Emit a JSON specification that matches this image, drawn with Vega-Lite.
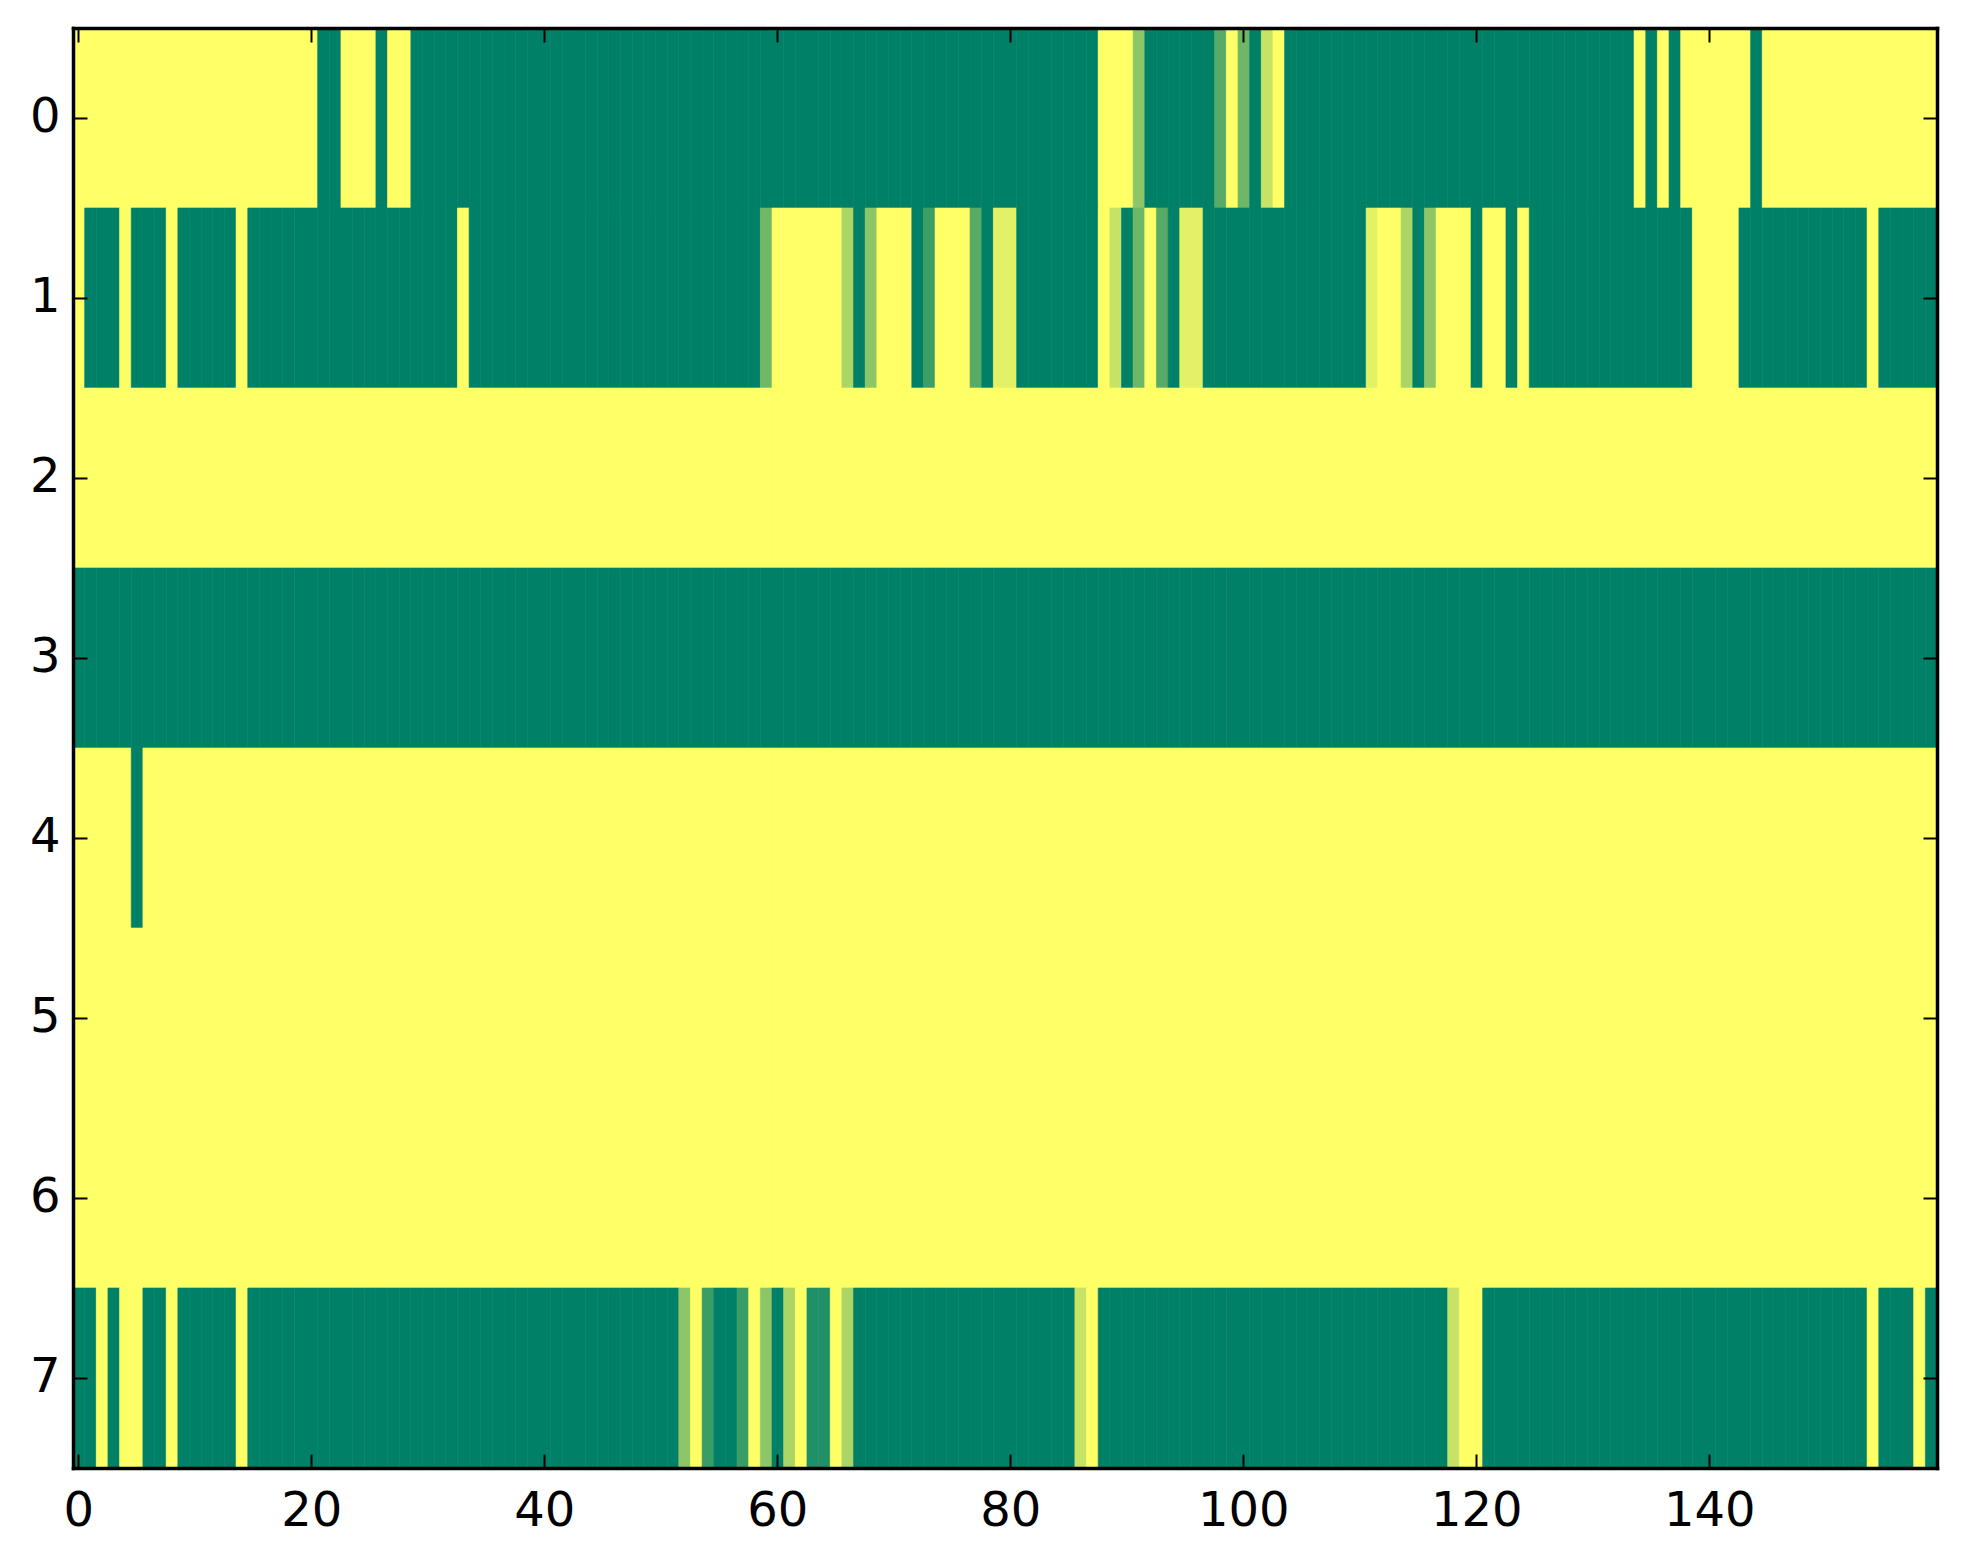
{
  "$schema": "https://vega.github.io/schema/vega-lite/v6.json",
  "width": 1864,
  "height": 1440,
  "autosize": {"type": "none"},
  "padding": {"left": 73, "top": 28, "right": 26, "bottom": 96},
  "background": "white",
  "data": {
    "values": [
{"r":0,"c":0,"v":1},{"r":0,"c":1,"v":1},{"r":0,"c":2,"v":1},{"r":0,"c":3,"v":1},{"r":0,"c":4,"v":1},{"r":0,"c":5,"v":1},{"r":0,"c":6,"v":1},{"r":0,"c":7,"v":1},{"r":0,"c":8,"v":1},{"r":0,"c":9,"v":1},
{"r":0,"c":10,"v":1},{"r":0,"c":11,"v":1},{"r":0,"c":12,"v":1},{"r":0,"c":13,"v":1},{"r":0,"c":14,"v":1},{"r":0,"c":15,"v":1},{"r":0,"c":16,"v":1},{"r":0,"c":17,"v":1},{"r":0,"c":18,"v":1},{"r":0,"c":19,"v":1},
{"r":0,"c":20,"v":1},{"r":0,"c":21,"v":0},{"r":0,"c":22,"v":0},{"r":0,"c":23,"v":1},{"r":0,"c":24,"v":1},{"r":0,"c":25,"v":1},{"r":0,"c":26,"v":0},{"r":0,"c":27,"v":1},{"r":0,"c":28,"v":1},{"r":0,"c":29,"v":0},
{"r":0,"c":30,"v":0},{"r":0,"c":31,"v":0},{"r":0,"c":32,"v":0},{"r":0,"c":33,"v":0},{"r":0,"c":34,"v":0},{"r":0,"c":35,"v":0},{"r":0,"c":36,"v":0},{"r":0,"c":37,"v":0},{"r":0,"c":38,"v":0},{"r":0,"c":39,"v":0},
{"r":0,"c":40,"v":0},{"r":0,"c":41,"v":0},{"r":0,"c":42,"v":0},{"r":0,"c":43,"v":0},{"r":0,"c":44,"v":0},{"r":0,"c":45,"v":0},{"r":0,"c":46,"v":0},{"r":0,"c":47,"v":0},{"r":0,"c":48,"v":0},{"r":0,"c":49,"v":0},
{"r":0,"c":50,"v":0},{"r":0,"c":51,"v":0},{"r":0,"c":52,"v":0},{"r":0,"c":53,"v":0},{"r":0,"c":54,"v":0},{"r":0,"c":55,"v":0},{"r":0,"c":56,"v":0},{"r":0,"c":57,"v":0},{"r":0,"c":58,"v":0},{"r":0,"c":59,"v":0},
{"r":0,"c":60,"v":0},{"r":0,"c":61,"v":0},{"r":0,"c":62,"v":0},{"r":0,"c":63,"v":0},{"r":0,"c":64,"v":0},{"r":0,"c":65,"v":0},{"r":0,"c":66,"v":0},{"r":0,"c":67,"v":0},{"r":0,"c":68,"v":0},{"r":0,"c":69,"v":0},
{"r":0,"c":70,"v":0},{"r":0,"c":71,"v":0},{"r":0,"c":72,"v":0},{"r":0,"c":73,"v":0},{"r":0,"c":74,"v":0},{"r":0,"c":75,"v":0},{"r":0,"c":76,"v":0},{"r":0,"c":77,"v":0},{"r":0,"c":78,"v":0},{"r":0,"c":79,"v":0},
{"r":0,"c":80,"v":0},{"r":0,"c":81,"v":0},{"r":0,"c":82,"v":0},{"r":0,"c":83,"v":0},{"r":0,"c":84,"v":0},{"r":0,"c":85,"v":0},{"r":0,"c":86,"v":0},{"r":0,"c":87,"v":0},{"r":0,"c":88,"v":1},{"r":0,"c":89,"v":1},
{"r":0,"c":90,"v":1},{"r":0,"c":91,"v":0.55},{"r":0,"c":92,"v":0},{"r":0,"c":93,"v":0},{"r":0,"c":94,"v":0},{"r":0,"c":95,"v":0},{"r":0,"c":96,"v":0},{"r":0,"c":97,"v":0},{"r":0,"c":98,"v":0.34},{"r":0,"c":99,"v":1},
{"r":0,"c":100,"v":0.43},{"r":0,"c":101,"v":0},{"r":0,"c":102,"v":0.78},{"r":0,"c":103,"v":1},{"r":0,"c":104,"v":0},{"r":0,"c":105,"v":0},{"r":0,"c":106,"v":0},{"r":0,"c":107,"v":0},{"r":0,"c":108,"v":0},{"r":0,"c":109,"v":0},
{"r":0,"c":110,"v":0},{"r":0,"c":111,"v":0},{"r":0,"c":112,"v":0},{"r":0,"c":113,"v":0},{"r":0,"c":114,"v":0},{"r":0,"c":115,"v":0},{"r":0,"c":116,"v":0},{"r":0,"c":117,"v":0},{"r":0,"c":118,"v":0},{"r":0,"c":119,"v":0},
{"r":0,"c":120,"v":0},{"r":0,"c":121,"v":0},{"r":0,"c":122,"v":0},{"r":0,"c":123,"v":0},{"r":0,"c":124,"v":0},{"r":0,"c":125,"v":0},{"r":0,"c":126,"v":0},{"r":0,"c":127,"v":0},{"r":0,"c":128,"v":0},{"r":0,"c":129,"v":0},
{"r":0,"c":130,"v":0},{"r":0,"c":131,"v":0},{"r":0,"c":132,"v":0},{"r":0,"c":133,"v":0},{"r":0,"c":134,"v":1},{"r":0,"c":135,"v":0},{"r":0,"c":136,"v":1},{"r":0,"c":137,"v":0},{"r":0,"c":138,"v":1},{"r":0,"c":139,"v":1},
{"r":0,"c":140,"v":1},{"r":0,"c":141,"v":1},{"r":0,"c":142,"v":1},{"r":0,"c":143,"v":1},{"r":0,"c":144,"v":0},{"r":0,"c":145,"v":1},{"r":0,"c":146,"v":1},{"r":0,"c":147,"v":1},{"r":0,"c":148,"v":1},{"r":0,"c":149,"v":1},
{"r":0,"c":150,"v":1},{"r":0,"c":151,"v":1},{"r":0,"c":152,"v":1},{"r":0,"c":153,"v":1},{"r":0,"c":154,"v":1},{"r":0,"c":155,"v":1},{"r":0,"c":156,"v":1},{"r":0,"c":157,"v":1},{"r":0,"c":158,"v":1},{"r":0,"c":159,"v":1},
{"r":1,"c":0,"v":1},{"r":1,"c":1,"v":0},{"r":1,"c":2,"v":0},{"r":1,"c":3,"v":0},{"r":1,"c":4,"v":1},{"r":1,"c":5,"v":0},{"r":1,"c":6,"v":0},{"r":1,"c":7,"v":0},{"r":1,"c":8,"v":1},{"r":1,"c":9,"v":0},
{"r":1,"c":10,"v":0},{"r":1,"c":11,"v":0},{"r":1,"c":12,"v":0},{"r":1,"c":13,"v":0},{"r":1,"c":14,"v":1},{"r":1,"c":15,"v":0},{"r":1,"c":16,"v":0},{"r":1,"c":17,"v":0},{"r":1,"c":18,"v":0},{"r":1,"c":19,"v":0},
{"r":1,"c":20,"v":0},{"r":1,"c":21,"v":0},{"r":1,"c":22,"v":0},{"r":1,"c":23,"v":0},{"r":1,"c":24,"v":0},{"r":1,"c":25,"v":0},{"r":1,"c":26,"v":0},{"r":1,"c":27,"v":0},{"r":1,"c":28,"v":0},{"r":1,"c":29,"v":0},
{"r":1,"c":30,"v":0},{"r":1,"c":31,"v":0},{"r":1,"c":32,"v":0},{"r":1,"c":33,"v":1},{"r":1,"c":34,"v":0},{"r":1,"c":35,"v":0},{"r":1,"c":36,"v":0},{"r":1,"c":37,"v":0},{"r":1,"c":38,"v":0},{"r":1,"c":39,"v":0},
{"r":1,"c":40,"v":0},{"r":1,"c":41,"v":0},{"r":1,"c":42,"v":0},{"r":1,"c":43,"v":0},{"r":1,"c":44,"v":0},{"r":1,"c":45,"v":0},{"r":1,"c":46,"v":0},{"r":1,"c":47,"v":0},{"r":1,"c":48,"v":0},{"r":1,"c":49,"v":0},
{"r":1,"c":50,"v":0},{"r":1,"c":51,"v":0},{"r":1,"c":52,"v":0},{"r":1,"c":53,"v":0},{"r":1,"c":54,"v":0},{"r":1,"c":55,"v":0},{"r":1,"c":56,"v":0},{"r":1,"c":57,"v":0},{"r":1,"c":58,"v":0},{"r":1,"c":59,"v":0.44},
{"r":1,"c":60,"v":1},{"r":1,"c":61,"v":1},{"r":1,"c":62,"v":1},{"r":1,"c":63,"v":1},{"r":1,"c":64,"v":1},{"r":1,"c":65,"v":1},{"r":1,"c":66,"v":0.67},{"r":1,"c":67,"v":0},{"r":1,"c":68,"v":0.55},{"r":1,"c":69,"v":1},
{"r":1,"c":70,"v":1},{"r":1,"c":71,"v":1},{"r":1,"c":72,"v":0},{"r":1,"c":73,"v":0.24},{"r":1,"c":74,"v":1},{"r":1,"c":75,"v":1},{"r":1,"c":76,"v":1},{"r":1,"c":77,"v":0.34},{"r":1,"c":78,"v":0},{"r":1,"c":79,"v":0.89},
{"r":1,"c":80,"v":0.89},{"r":1,"c":81,"v":0},{"r":1,"c":82,"v":0},{"r":1,"c":83,"v":0},{"r":1,"c":84,"v":0},{"r":1,"c":85,"v":0},{"r":1,"c":86,"v":0},{"r":1,"c":87,"v":0},{"r":1,"c":88,"v":1},{"r":1,"c":89,"v":0.78},
{"r":1,"c":90,"v":0},{"r":1,"c":91,"v":0.43},{"r":1,"c":92,"v":1},{"r":1,"c":93,"v":0.34},{"r":1,"c":94,"v":0},{"r":1,"c":95,"v":0.89},{"r":1,"c":96,"v":0.89},{"r":1,"c":97,"v":0},{"r":1,"c":98,"v":0},{"r":1,"c":99,"v":0},
{"r":1,"c":100,"v":0},{"r":1,"c":101,"v":0},{"r":1,"c":102,"v":0},{"r":1,"c":103,"v":0},{"r":1,"c":104,"v":0},{"r":1,"c":105,"v":0},{"r":1,"c":106,"v":0},{"r":1,"c":107,"v":0},{"r":1,"c":108,"v":0},{"r":1,"c":109,"v":0},
{"r":1,"c":110,"v":0},{"r":1,"c":111,"v":0.89},{"r":1,"c":112,"v":1},{"r":1,"c":113,"v":1},{"r":1,"c":114,"v":0.67},{"r":1,"c":115,"v":0},{"r":1,"c":116,"v":0.55},{"r":1,"c":117,"v":1},{"r":1,"c":118,"v":1},{"r":1,"c":119,"v":1},
{"r":1,"c":120,"v":0},{"r":1,"c":121,"v":1},{"r":1,"c":122,"v":1},{"r":1,"c":123,"v":0},{"r":1,"c":124,"v":1},{"r":1,"c":125,"v":0},{"r":1,"c":126,"v":0},{"r":1,"c":127,"v":0},{"r":1,"c":128,"v":0},{"r":1,"c":129,"v":0},
{"r":1,"c":130,"v":0},{"r":1,"c":131,"v":0},{"r":1,"c":132,"v":0},{"r":1,"c":133,"v":0},{"r":1,"c":134,"v":0},{"r":1,"c":135,"v":0},{"r":1,"c":136,"v":0},{"r":1,"c":137,"v":0},{"r":1,"c":138,"v":0},{"r":1,"c":139,"v":1},
{"r":1,"c":140,"v":1},{"r":1,"c":141,"v":1},{"r":1,"c":142,"v":1},{"r":1,"c":143,"v":0},{"r":1,"c":144,"v":0},{"r":1,"c":145,"v":0},{"r":1,"c":146,"v":0},{"r":1,"c":147,"v":0},{"r":1,"c":148,"v":0},{"r":1,"c":149,"v":0},
{"r":1,"c":150,"v":0},{"r":1,"c":151,"v":0},{"r":1,"c":152,"v":0},{"r":1,"c":153,"v":0},{"r":1,"c":154,"v":1},{"r":1,"c":155,"v":0},{"r":1,"c":156,"v":0},{"r":1,"c":157,"v":0},{"r":1,"c":158,"v":0},{"r":1,"c":159,"v":0},
{"r":2,"c":0,"v":1},{"r":2,"c":1,"v":1},{"r":2,"c":2,"v":1},{"r":2,"c":3,"v":1},{"r":2,"c":4,"v":1},{"r":2,"c":5,"v":1},{"r":2,"c":6,"v":1},{"r":2,"c":7,"v":1},{"r":2,"c":8,"v":1},{"r":2,"c":9,"v":1},
{"r":2,"c":10,"v":1},{"r":2,"c":11,"v":1},{"r":2,"c":12,"v":1},{"r":2,"c":13,"v":1},{"r":2,"c":14,"v":1},{"r":2,"c":15,"v":1},{"r":2,"c":16,"v":1},{"r":2,"c":17,"v":1},{"r":2,"c":18,"v":1},{"r":2,"c":19,"v":1},
{"r":2,"c":20,"v":1},{"r":2,"c":21,"v":1},{"r":2,"c":22,"v":1},{"r":2,"c":23,"v":1},{"r":2,"c":24,"v":1},{"r":2,"c":25,"v":1},{"r":2,"c":26,"v":1},{"r":2,"c":27,"v":1},{"r":2,"c":28,"v":1},{"r":2,"c":29,"v":1},
{"r":2,"c":30,"v":1},{"r":2,"c":31,"v":1},{"r":2,"c":32,"v":1},{"r":2,"c":33,"v":1},{"r":2,"c":34,"v":1},{"r":2,"c":35,"v":1},{"r":2,"c":36,"v":1},{"r":2,"c":37,"v":1},{"r":2,"c":38,"v":1},{"r":2,"c":39,"v":1},
{"r":2,"c":40,"v":1},{"r":2,"c":41,"v":1},{"r":2,"c":42,"v":1},{"r":2,"c":43,"v":1},{"r":2,"c":44,"v":1},{"r":2,"c":45,"v":1},{"r":2,"c":46,"v":1},{"r":2,"c":47,"v":1},{"r":2,"c":48,"v":1},{"r":2,"c":49,"v":1},
{"r":2,"c":50,"v":1},{"r":2,"c":51,"v":1},{"r":2,"c":52,"v":1},{"r":2,"c":53,"v":1},{"r":2,"c":54,"v":1},{"r":2,"c":55,"v":1},{"r":2,"c":56,"v":1},{"r":2,"c":57,"v":1},{"r":2,"c":58,"v":1},{"r":2,"c":59,"v":1},
{"r":2,"c":60,"v":1},{"r":2,"c":61,"v":1},{"r":2,"c":62,"v":1},{"r":2,"c":63,"v":1},{"r":2,"c":64,"v":1},{"r":2,"c":65,"v":1},{"r":2,"c":66,"v":1},{"r":2,"c":67,"v":1},{"r":2,"c":68,"v":1},{"r":2,"c":69,"v":1},
{"r":2,"c":70,"v":1},{"r":2,"c":71,"v":1},{"r":2,"c":72,"v":1},{"r":2,"c":73,"v":1},{"r":2,"c":74,"v":1},{"r":2,"c":75,"v":1},{"r":2,"c":76,"v":1},{"r":2,"c":77,"v":1},{"r":2,"c":78,"v":1},{"r":2,"c":79,"v":1},
{"r":2,"c":80,"v":1},{"r":2,"c":81,"v":1},{"r":2,"c":82,"v":1},{"r":2,"c":83,"v":1},{"r":2,"c":84,"v":1},{"r":2,"c":85,"v":1},{"r":2,"c":86,"v":1},{"r":2,"c":87,"v":1},{"r":2,"c":88,"v":1},{"r":2,"c":89,"v":1},
{"r":2,"c":90,"v":1},{"r":2,"c":91,"v":1},{"r":2,"c":92,"v":1},{"r":2,"c":93,"v":1},{"r":2,"c":94,"v":1},{"r":2,"c":95,"v":1},{"r":2,"c":96,"v":1},{"r":2,"c":97,"v":1},{"r":2,"c":98,"v":1},{"r":2,"c":99,"v":1},
{"r":2,"c":100,"v":1},{"r":2,"c":101,"v":1},{"r":2,"c":102,"v":1},{"r":2,"c":103,"v":1},{"r":2,"c":104,"v":1},{"r":2,"c":105,"v":1},{"r":2,"c":106,"v":1},{"r":2,"c":107,"v":1},{"r":2,"c":108,"v":1},{"r":2,"c":109,"v":1},
{"r":2,"c":110,"v":1},{"r":2,"c":111,"v":1},{"r":2,"c":112,"v":1},{"r":2,"c":113,"v":1},{"r":2,"c":114,"v":1},{"r":2,"c":115,"v":1},{"r":2,"c":116,"v":1},{"r":2,"c":117,"v":1},{"r":2,"c":118,"v":1},{"r":2,"c":119,"v":1},
{"r":2,"c":120,"v":1},{"r":2,"c":121,"v":1},{"r":2,"c":122,"v":1},{"r":2,"c":123,"v":1},{"r":2,"c":124,"v":1},{"r":2,"c":125,"v":1},{"r":2,"c":126,"v":1},{"r":2,"c":127,"v":1},{"r":2,"c":128,"v":1},{"r":2,"c":129,"v":1},
{"r":2,"c":130,"v":1},{"r":2,"c":131,"v":1},{"r":2,"c":132,"v":1},{"r":2,"c":133,"v":1},{"r":2,"c":134,"v":1},{"r":2,"c":135,"v":1},{"r":2,"c":136,"v":1},{"r":2,"c":137,"v":1},{"r":2,"c":138,"v":1},{"r":2,"c":139,"v":1},
{"r":2,"c":140,"v":1},{"r":2,"c":141,"v":1},{"r":2,"c":142,"v":1},{"r":2,"c":143,"v":1},{"r":2,"c":144,"v":1},{"r":2,"c":145,"v":1},{"r":2,"c":146,"v":1},{"r":2,"c":147,"v":1},{"r":2,"c":148,"v":1},{"r":2,"c":149,"v":1},
{"r":2,"c":150,"v":1},{"r":2,"c":151,"v":1},{"r":2,"c":152,"v":1},{"r":2,"c":153,"v":1},{"r":2,"c":154,"v":1},{"r":2,"c":155,"v":1},{"r":2,"c":156,"v":1},{"r":2,"c":157,"v":1},{"r":2,"c":158,"v":1},{"r":2,"c":159,"v":1},
{"r":3,"c":0,"v":0},{"r":3,"c":1,"v":0},{"r":3,"c":2,"v":0},{"r":3,"c":3,"v":0},{"r":3,"c":4,"v":0},{"r":3,"c":5,"v":0},{"r":3,"c":6,"v":0},{"r":3,"c":7,"v":0},{"r":3,"c":8,"v":0},{"r":3,"c":9,"v":0},
{"r":3,"c":10,"v":0},{"r":3,"c":11,"v":0},{"r":3,"c":12,"v":0},{"r":3,"c":13,"v":0},{"r":3,"c":14,"v":0},{"r":3,"c":15,"v":0},{"r":3,"c":16,"v":0},{"r":3,"c":17,"v":0},{"r":3,"c":18,"v":0},{"r":3,"c":19,"v":0},
{"r":3,"c":20,"v":0},{"r":3,"c":21,"v":0},{"r":3,"c":22,"v":0},{"r":3,"c":23,"v":0},{"r":3,"c":24,"v":0},{"r":3,"c":25,"v":0},{"r":3,"c":26,"v":0},{"r":3,"c":27,"v":0},{"r":3,"c":28,"v":0},{"r":3,"c":29,"v":0},
{"r":3,"c":30,"v":0},{"r":3,"c":31,"v":0},{"r":3,"c":32,"v":0},{"r":3,"c":33,"v":0},{"r":3,"c":34,"v":0},{"r":3,"c":35,"v":0},{"r":3,"c":36,"v":0},{"r":3,"c":37,"v":0},{"r":3,"c":38,"v":0},{"r":3,"c":39,"v":0},
{"r":3,"c":40,"v":0},{"r":3,"c":41,"v":0},{"r":3,"c":42,"v":0},{"r":3,"c":43,"v":0},{"r":3,"c":44,"v":0},{"r":3,"c":45,"v":0},{"r":3,"c":46,"v":0},{"r":3,"c":47,"v":0},{"r":3,"c":48,"v":0},{"r":3,"c":49,"v":0},
{"r":3,"c":50,"v":0},{"r":3,"c":51,"v":0},{"r":3,"c":52,"v":0},{"r":3,"c":53,"v":0},{"r":3,"c":54,"v":0},{"r":3,"c":55,"v":0},{"r":3,"c":56,"v":0},{"r":3,"c":57,"v":0},{"r":3,"c":58,"v":0},{"r":3,"c":59,"v":0},
{"r":3,"c":60,"v":0},{"r":3,"c":61,"v":0},{"r":3,"c":62,"v":0},{"r":3,"c":63,"v":0},{"r":3,"c":64,"v":0},{"r":3,"c":65,"v":0},{"r":3,"c":66,"v":0},{"r":3,"c":67,"v":0},{"r":3,"c":68,"v":0},{"r":3,"c":69,"v":0},
{"r":3,"c":70,"v":0},{"r":3,"c":71,"v":0},{"r":3,"c":72,"v":0},{"r":3,"c":73,"v":0},{"r":3,"c":74,"v":0},{"r":3,"c":75,"v":0},{"r":3,"c":76,"v":0},{"r":3,"c":77,"v":0},{"r":3,"c":78,"v":0},{"r":3,"c":79,"v":0},
{"r":3,"c":80,"v":0},{"r":3,"c":81,"v":0},{"r":3,"c":82,"v":0},{"r":3,"c":83,"v":0},{"r":3,"c":84,"v":0},{"r":3,"c":85,"v":0},{"r":3,"c":86,"v":0},{"r":3,"c":87,"v":0},{"r":3,"c":88,"v":0},{"r":3,"c":89,"v":0},
{"r":3,"c":90,"v":0},{"r":3,"c":91,"v":0},{"r":3,"c":92,"v":0},{"r":3,"c":93,"v":0},{"r":3,"c":94,"v":0},{"r":3,"c":95,"v":0},{"r":3,"c":96,"v":0},{"r":3,"c":97,"v":0},{"r":3,"c":98,"v":0},{"r":3,"c":99,"v":0},
{"r":3,"c":100,"v":0},{"r":3,"c":101,"v":0},{"r":3,"c":102,"v":0},{"r":3,"c":103,"v":0},{"r":3,"c":104,"v":0},{"r":3,"c":105,"v":0},{"r":3,"c":106,"v":0},{"r":3,"c":107,"v":0},{"r":3,"c":108,"v":0},{"r":3,"c":109,"v":0},
{"r":3,"c":110,"v":0},{"r":3,"c":111,"v":0},{"r":3,"c":112,"v":0},{"r":3,"c":113,"v":0},{"r":3,"c":114,"v":0},{"r":3,"c":115,"v":0},{"r":3,"c":116,"v":0},{"r":3,"c":117,"v":0},{"r":3,"c":118,"v":0},{"r":3,"c":119,"v":0},
{"r":3,"c":120,"v":0},{"r":3,"c":121,"v":0},{"r":3,"c":122,"v":0},{"r":3,"c":123,"v":0},{"r":3,"c":124,"v":0},{"r":3,"c":125,"v":0},{"r":3,"c":126,"v":0},{"r":3,"c":127,"v":0},{"r":3,"c":128,"v":0},{"r":3,"c":129,"v":0},
{"r":3,"c":130,"v":0},{"r":3,"c":131,"v":0},{"r":3,"c":132,"v":0},{"r":3,"c":133,"v":0},{"r":3,"c":134,"v":0},{"r":3,"c":135,"v":0},{"r":3,"c":136,"v":0},{"r":3,"c":137,"v":0},{"r":3,"c":138,"v":0},{"r":3,"c":139,"v":0},
{"r":3,"c":140,"v":0},{"r":3,"c":141,"v":0},{"r":3,"c":142,"v":0},{"r":3,"c":143,"v":0},{"r":3,"c":144,"v":0},{"r":3,"c":145,"v":0},{"r":3,"c":146,"v":0},{"r":3,"c":147,"v":0},{"r":3,"c":148,"v":0},{"r":3,"c":149,"v":0},
{"r":3,"c":150,"v":0},{"r":3,"c":151,"v":0},{"r":3,"c":152,"v":0},{"r":3,"c":153,"v":0},{"r":3,"c":154,"v":0},{"r":3,"c":155,"v":0},{"r":3,"c":156,"v":0},{"r":3,"c":157,"v":0},{"r":3,"c":158,"v":0},{"r":3,"c":159,"v":0},
{"r":4,"c":0,"v":1},{"r":4,"c":1,"v":1},{"r":4,"c":2,"v":1},{"r":4,"c":3,"v":1},{"r":4,"c":4,"v":1},{"r":4,"c":5,"v":0},{"r":4,"c":6,"v":1},{"r":4,"c":7,"v":1},{"r":4,"c":8,"v":1},{"r":4,"c":9,"v":1},
{"r":4,"c":10,"v":1},{"r":4,"c":11,"v":1},{"r":4,"c":12,"v":1},{"r":4,"c":13,"v":1},{"r":4,"c":14,"v":1},{"r":4,"c":15,"v":1},{"r":4,"c":16,"v":1},{"r":4,"c":17,"v":1},{"r":4,"c":18,"v":1},{"r":4,"c":19,"v":1},
{"r":4,"c":20,"v":1},{"r":4,"c":21,"v":1},{"r":4,"c":22,"v":1},{"r":4,"c":23,"v":1},{"r":4,"c":24,"v":1},{"r":4,"c":25,"v":1},{"r":4,"c":26,"v":1},{"r":4,"c":27,"v":1},{"r":4,"c":28,"v":1},{"r":4,"c":29,"v":1},
{"r":4,"c":30,"v":1},{"r":4,"c":31,"v":1},{"r":4,"c":32,"v":1},{"r":4,"c":33,"v":1},{"r":4,"c":34,"v":1},{"r":4,"c":35,"v":1},{"r":4,"c":36,"v":1},{"r":4,"c":37,"v":1},{"r":4,"c":38,"v":1},{"r":4,"c":39,"v":1},
{"r":4,"c":40,"v":1},{"r":4,"c":41,"v":1},{"r":4,"c":42,"v":1},{"r":4,"c":43,"v":1},{"r":4,"c":44,"v":1},{"r":4,"c":45,"v":1},{"r":4,"c":46,"v":1},{"r":4,"c":47,"v":1},{"r":4,"c":48,"v":1},{"r":4,"c":49,"v":1},
{"r":4,"c":50,"v":1},{"r":4,"c":51,"v":1},{"r":4,"c":52,"v":1},{"r":4,"c":53,"v":1},{"r":4,"c":54,"v":1},{"r":4,"c":55,"v":1},{"r":4,"c":56,"v":1},{"r":4,"c":57,"v":1},{"r":4,"c":58,"v":1},{"r":4,"c":59,"v":1},
{"r":4,"c":60,"v":1},{"r":4,"c":61,"v":1},{"r":4,"c":62,"v":1},{"r":4,"c":63,"v":1},{"r":4,"c":64,"v":1},{"r":4,"c":65,"v":1},{"r":4,"c":66,"v":1},{"r":4,"c":67,"v":1},{"r":4,"c":68,"v":1},{"r":4,"c":69,"v":1},
{"r":4,"c":70,"v":1},{"r":4,"c":71,"v":1},{"r":4,"c":72,"v":1},{"r":4,"c":73,"v":1},{"r":4,"c":74,"v":1},{"r":4,"c":75,"v":1},{"r":4,"c":76,"v":1},{"r":4,"c":77,"v":1},{"r":4,"c":78,"v":1},{"r":4,"c":79,"v":1},
{"r":4,"c":80,"v":1},{"r":4,"c":81,"v":1},{"r":4,"c":82,"v":1},{"r":4,"c":83,"v":1},{"r":4,"c":84,"v":1},{"r":4,"c":85,"v":1},{"r":4,"c":86,"v":1},{"r":4,"c":87,"v":1},{"r":4,"c":88,"v":1},{"r":4,"c":89,"v":1},
{"r":4,"c":90,"v":1},{"r":4,"c":91,"v":1},{"r":4,"c":92,"v":1},{"r":4,"c":93,"v":1},{"r":4,"c":94,"v":1},{"r":4,"c":95,"v":1},{"r":4,"c":96,"v":1},{"r":4,"c":97,"v":1},{"r":4,"c":98,"v":1},{"r":4,"c":99,"v":1},
{"r":4,"c":100,"v":1},{"r":4,"c":101,"v":1},{"r":4,"c":102,"v":1},{"r":4,"c":103,"v":1},{"r":4,"c":104,"v":1},{"r":4,"c":105,"v":1},{"r":4,"c":106,"v":1},{"r":4,"c":107,"v":1},{"r":4,"c":108,"v":1},{"r":4,"c":109,"v":1},
{"r":4,"c":110,"v":1},{"r":4,"c":111,"v":1},{"r":4,"c":112,"v":1},{"r":4,"c":113,"v":1},{"r":4,"c":114,"v":1},{"r":4,"c":115,"v":1},{"r":4,"c":116,"v":1},{"r":4,"c":117,"v":1},{"r":4,"c":118,"v":1},{"r":4,"c":119,"v":1},
{"r":4,"c":120,"v":1},{"r":4,"c":121,"v":1},{"r":4,"c":122,"v":1},{"r":4,"c":123,"v":1},{"r":4,"c":124,"v":1},{"r":4,"c":125,"v":1},{"r":4,"c":126,"v":1},{"r":4,"c":127,"v":1},{"r":4,"c":128,"v":1},{"r":4,"c":129,"v":1},
{"r":4,"c":130,"v":1},{"r":4,"c":131,"v":1},{"r":4,"c":132,"v":1},{"r":4,"c":133,"v":1},{"r":4,"c":134,"v":1},{"r":4,"c":135,"v":1},{"r":4,"c":136,"v":1},{"r":4,"c":137,"v":1},{"r":4,"c":138,"v":1},{"r":4,"c":139,"v":1},
{"r":4,"c":140,"v":1},{"r":4,"c":141,"v":1},{"r":4,"c":142,"v":1},{"r":4,"c":143,"v":1},{"r":4,"c":144,"v":1},{"r":4,"c":145,"v":1},{"r":4,"c":146,"v":1},{"r":4,"c":147,"v":1},{"r":4,"c":148,"v":1},{"r":4,"c":149,"v":1},
{"r":4,"c":150,"v":1},{"r":4,"c":151,"v":1},{"r":4,"c":152,"v":1},{"r":4,"c":153,"v":1},{"r":4,"c":154,"v":1},{"r":4,"c":155,"v":1},{"r":4,"c":156,"v":1},{"r":4,"c":157,"v":1},{"r":4,"c":158,"v":1},{"r":4,"c":159,"v":1},
{"r":5,"c":0,"v":1},{"r":5,"c":1,"v":1},{"r":5,"c":2,"v":1},{"r":5,"c":3,"v":1},{"r":5,"c":4,"v":1},{"r":5,"c":5,"v":1},{"r":5,"c":6,"v":1},{"r":5,"c":7,"v":1},{"r":5,"c":8,"v":1},{"r":5,"c":9,"v":1},
{"r":5,"c":10,"v":1},{"r":5,"c":11,"v":1},{"r":5,"c":12,"v":1},{"r":5,"c":13,"v":1},{"r":5,"c":14,"v":1},{"r":5,"c":15,"v":1},{"r":5,"c":16,"v":1},{"r":5,"c":17,"v":1},{"r":5,"c":18,"v":1},{"r":5,"c":19,"v":1},
{"r":5,"c":20,"v":1},{"r":5,"c":21,"v":1},{"r":5,"c":22,"v":1},{"r":5,"c":23,"v":1},{"r":5,"c":24,"v":1},{"r":5,"c":25,"v":1},{"r":5,"c":26,"v":1},{"r":5,"c":27,"v":1},{"r":5,"c":28,"v":1},{"r":5,"c":29,"v":1},
{"r":5,"c":30,"v":1},{"r":5,"c":31,"v":1},{"r":5,"c":32,"v":1},{"r":5,"c":33,"v":1},{"r":5,"c":34,"v":1},{"r":5,"c":35,"v":1},{"r":5,"c":36,"v":1},{"r":5,"c":37,"v":1},{"r":5,"c":38,"v":1},{"r":5,"c":39,"v":1},
{"r":5,"c":40,"v":1},{"r":5,"c":41,"v":1},{"r":5,"c":42,"v":1},{"r":5,"c":43,"v":1},{"r":5,"c":44,"v":1},{"r":5,"c":45,"v":1},{"r":5,"c":46,"v":1},{"r":5,"c":47,"v":1},{"r":5,"c":48,"v":1},{"r":5,"c":49,"v":1},
{"r":5,"c":50,"v":1},{"r":5,"c":51,"v":1},{"r":5,"c":52,"v":1},{"r":5,"c":53,"v":1},{"r":5,"c":54,"v":1},{"r":5,"c":55,"v":1},{"r":5,"c":56,"v":1},{"r":5,"c":57,"v":1},{"r":5,"c":58,"v":1},{"r":5,"c":59,"v":1},
{"r":5,"c":60,"v":1},{"r":5,"c":61,"v":1},{"r":5,"c":62,"v":1},{"r":5,"c":63,"v":1},{"r":5,"c":64,"v":1},{"r":5,"c":65,"v":1},{"r":5,"c":66,"v":1},{"r":5,"c":67,"v":1},{"r":5,"c":68,"v":1},{"r":5,"c":69,"v":1},
{"r":5,"c":70,"v":1},{"r":5,"c":71,"v":1},{"r":5,"c":72,"v":1},{"r":5,"c":73,"v":1},{"r":5,"c":74,"v":1},{"r":5,"c":75,"v":1},{"r":5,"c":76,"v":1},{"r":5,"c":77,"v":1},{"r":5,"c":78,"v":1},{"r":5,"c":79,"v":1},
{"r":5,"c":80,"v":1},{"r":5,"c":81,"v":1},{"r":5,"c":82,"v":1},{"r":5,"c":83,"v":1},{"r":5,"c":84,"v":1},{"r":5,"c":85,"v":1},{"r":5,"c":86,"v":1},{"r":5,"c":87,"v":1},{"r":5,"c":88,"v":1},{"r":5,"c":89,"v":1},
{"r":5,"c":90,"v":1},{"r":5,"c":91,"v":1},{"r":5,"c":92,"v":1},{"r":5,"c":93,"v":1},{"r":5,"c":94,"v":1},{"r":5,"c":95,"v":1},{"r":5,"c":96,"v":1},{"r":5,"c":97,"v":1},{"r":5,"c":98,"v":1},{"r":5,"c":99,"v":1},
{"r":5,"c":100,"v":1},{"r":5,"c":101,"v":1},{"r":5,"c":102,"v":1},{"r":5,"c":103,"v":1},{"r":5,"c":104,"v":1},{"r":5,"c":105,"v":1},{"r":5,"c":106,"v":1},{"r":5,"c":107,"v":1},{"r":5,"c":108,"v":1},{"r":5,"c":109,"v":1},
{"r":5,"c":110,"v":1},{"r":5,"c":111,"v":1},{"r":5,"c":112,"v":1},{"r":5,"c":113,"v":1},{"r":5,"c":114,"v":1},{"r":5,"c":115,"v":1},{"r":5,"c":116,"v":1},{"r":5,"c":117,"v":1},{"r":5,"c":118,"v":1},{"r":5,"c":119,"v":1},
{"r":5,"c":120,"v":1},{"r":5,"c":121,"v":1},{"r":5,"c":122,"v":1},{"r":5,"c":123,"v":1},{"r":5,"c":124,"v":1},{"r":5,"c":125,"v":1},{"r":5,"c":126,"v":1},{"r":5,"c":127,"v":1},{"r":5,"c":128,"v":1},{"r":5,"c":129,"v":1},
{"r":5,"c":130,"v":1},{"r":5,"c":131,"v":1},{"r":5,"c":132,"v":1},{"r":5,"c":133,"v":1},{"r":5,"c":134,"v":1},{"r":5,"c":135,"v":1},{"r":5,"c":136,"v":1},{"r":5,"c":137,"v":1},{"r":5,"c":138,"v":1},{"r":5,"c":139,"v":1},
{"r":5,"c":140,"v":1},{"r":5,"c":141,"v":1},{"r":5,"c":142,"v":1},{"r":5,"c":143,"v":1},{"r":5,"c":144,"v":1},{"r":5,"c":145,"v":1},{"r":5,"c":146,"v":1},{"r":5,"c":147,"v":1},{"r":5,"c":148,"v":1},{"r":5,"c":149,"v":1},
{"r":5,"c":150,"v":1},{"r":5,"c":151,"v":1},{"r":5,"c":152,"v":1},{"r":5,"c":153,"v":1},{"r":5,"c":154,"v":1},{"r":5,"c":155,"v":1},{"r":5,"c":156,"v":1},{"r":5,"c":157,"v":1},{"r":5,"c":158,"v":1},{"r":5,"c":159,"v":1},
{"r":6,"c":0,"v":1},{"r":6,"c":1,"v":1},{"r":6,"c":2,"v":1},{"r":6,"c":3,"v":1},{"r":6,"c":4,"v":1},{"r":6,"c":5,"v":1},{"r":6,"c":6,"v":1},{"r":6,"c":7,"v":1},{"r":6,"c":8,"v":1},{"r":6,"c":9,"v":1},
{"r":6,"c":10,"v":1},{"r":6,"c":11,"v":1},{"r":6,"c":12,"v":1},{"r":6,"c":13,"v":1},{"r":6,"c":14,"v":1},{"r":6,"c":15,"v":1},{"r":6,"c":16,"v":1},{"r":6,"c":17,"v":1},{"r":6,"c":18,"v":1},{"r":6,"c":19,"v":1},
{"r":6,"c":20,"v":1},{"r":6,"c":21,"v":1},{"r":6,"c":22,"v":1},{"r":6,"c":23,"v":1},{"r":6,"c":24,"v":1},{"r":6,"c":25,"v":1},{"r":6,"c":26,"v":1},{"r":6,"c":27,"v":1},{"r":6,"c":28,"v":1},{"r":6,"c":29,"v":1},
{"r":6,"c":30,"v":1},{"r":6,"c":31,"v":1},{"r":6,"c":32,"v":1},{"r":6,"c":33,"v":1},{"r":6,"c":34,"v":1},{"r":6,"c":35,"v":1},{"r":6,"c":36,"v":1},{"r":6,"c":37,"v":1},{"r":6,"c":38,"v":1},{"r":6,"c":39,"v":1},
{"r":6,"c":40,"v":1},{"r":6,"c":41,"v":1},{"r":6,"c":42,"v":1},{"r":6,"c":43,"v":1},{"r":6,"c":44,"v":1},{"r":6,"c":45,"v":1},{"r":6,"c":46,"v":1},{"r":6,"c":47,"v":1},{"r":6,"c":48,"v":1},{"r":6,"c":49,"v":1},
{"r":6,"c":50,"v":1},{"r":6,"c":51,"v":1},{"r":6,"c":52,"v":1},{"r":6,"c":53,"v":1},{"r":6,"c":54,"v":1},{"r":6,"c":55,"v":1},{"r":6,"c":56,"v":1},{"r":6,"c":57,"v":1},{"r":6,"c":58,"v":1},{"r":6,"c":59,"v":1},
{"r":6,"c":60,"v":1},{"r":6,"c":61,"v":1},{"r":6,"c":62,"v":1},{"r":6,"c":63,"v":1},{"r":6,"c":64,"v":1},{"r":6,"c":65,"v":1},{"r":6,"c":66,"v":1},{"r":6,"c":67,"v":1},{"r":6,"c":68,"v":1},{"r":6,"c":69,"v":1},
{"r":6,"c":70,"v":1},{"r":6,"c":71,"v":1},{"r":6,"c":72,"v":1},{"r":6,"c":73,"v":1},{"r":6,"c":74,"v":1},{"r":6,"c":75,"v":1},{"r":6,"c":76,"v":1},{"r":6,"c":77,"v":1},{"r":6,"c":78,"v":1},{"r":6,"c":79,"v":1},
{"r":6,"c":80,"v":1},{"r":6,"c":81,"v":1},{"r":6,"c":82,"v":1},{"r":6,"c":83,"v":1},{"r":6,"c":84,"v":1},{"r":6,"c":85,"v":1},{"r":6,"c":86,"v":1},{"r":6,"c":87,"v":1},{"r":6,"c":88,"v":1},{"r":6,"c":89,"v":1},
{"r":6,"c":90,"v":1},{"r":6,"c":91,"v":1},{"r":6,"c":92,"v":1},{"r":6,"c":93,"v":1},{"r":6,"c":94,"v":1},{"r":6,"c":95,"v":1},{"r":6,"c":96,"v":1},{"r":6,"c":97,"v":1},{"r":6,"c":98,"v":1},{"r":6,"c":99,"v":1},
{"r":6,"c":100,"v":1},{"r":6,"c":101,"v":1},{"r":6,"c":102,"v":1},{"r":6,"c":103,"v":1},{"r":6,"c":104,"v":1},{"r":6,"c":105,"v":1},{"r":6,"c":106,"v":1},{"r":6,"c":107,"v":1},{"r":6,"c":108,"v":1},{"r":6,"c":109,"v":1},
{"r":6,"c":110,"v":1},{"r":6,"c":111,"v":1},{"r":6,"c":112,"v":1},{"r":6,"c":113,"v":1},{"r":6,"c":114,"v":1},{"r":6,"c":115,"v":1},{"r":6,"c":116,"v":1},{"r":6,"c":117,"v":1},{"r":6,"c":118,"v":1},{"r":6,"c":119,"v":1},
{"r":6,"c":120,"v":1},{"r":6,"c":121,"v":1},{"r":6,"c":122,"v":1},{"r":6,"c":123,"v":1},{"r":6,"c":124,"v":1},{"r":6,"c":125,"v":1},{"r":6,"c":126,"v":1},{"r":6,"c":127,"v":1},{"r":6,"c":128,"v":1},{"r":6,"c":129,"v":1},
{"r":6,"c":130,"v":1},{"r":6,"c":131,"v":1},{"r":6,"c":132,"v":1},{"r":6,"c":133,"v":1},{"r":6,"c":134,"v":1},{"r":6,"c":135,"v":1},{"r":6,"c":136,"v":1},{"r":6,"c":137,"v":1},{"r":6,"c":138,"v":1},{"r":6,"c":139,"v":1},
{"r":6,"c":140,"v":1},{"r":6,"c":141,"v":1},{"r":6,"c":142,"v":1},{"r":6,"c":143,"v":1},{"r":6,"c":144,"v":1},{"r":6,"c":145,"v":1},{"r":6,"c":146,"v":1},{"r":6,"c":147,"v":1},{"r":6,"c":148,"v":1},{"r":6,"c":149,"v":1},
{"r":6,"c":150,"v":1},{"r":6,"c":151,"v":1},{"r":6,"c":152,"v":1},{"r":6,"c":153,"v":1},{"r":6,"c":154,"v":1},{"r":6,"c":155,"v":1},{"r":6,"c":156,"v":1},{"r":6,"c":157,"v":1},{"r":6,"c":158,"v":1},{"r":6,"c":159,"v":1},
{"r":7,"c":0,"v":0},{"r":7,"c":1,"v":0},{"r":7,"c":2,"v":1},{"r":7,"c":3,"v":0},{"r":7,"c":4,"v":1},{"r":7,"c":5,"v":1},{"r":7,"c":6,"v":0},{"r":7,"c":7,"v":0},{"r":7,"c":8,"v":1},{"r":7,"c":9,"v":0},
{"r":7,"c":10,"v":0},{"r":7,"c":11,"v":0},{"r":7,"c":12,"v":0},{"r":7,"c":13,"v":0},{"r":7,"c":14,"v":1},{"r":7,"c":15,"v":0},{"r":7,"c":16,"v":0},{"r":7,"c":17,"v":0},{"r":7,"c":18,"v":0},{"r":7,"c":19,"v":0},
{"r":7,"c":20,"v":0},{"r":7,"c":21,"v":0},{"r":7,"c":22,"v":0},{"r":7,"c":23,"v":0},{"r":7,"c":24,"v":0},{"r":7,"c":25,"v":0},{"r":7,"c":26,"v":0},{"r":7,"c":27,"v":0},{"r":7,"c":28,"v":0},{"r":7,"c":29,"v":0},
{"r":7,"c":30,"v":0},{"r":7,"c":31,"v":0},{"r":7,"c":32,"v":0},{"r":7,"c":33,"v":0},{"r":7,"c":34,"v":0},{"r":7,"c":35,"v":0},{"r":7,"c":36,"v":0},{"r":7,"c":37,"v":0},{"r":7,"c":38,"v":0},{"r":7,"c":39,"v":0},
{"r":7,"c":40,"v":0},{"r":7,"c":41,"v":0},{"r":7,"c":42,"v":0},{"r":7,"c":43,"v":0},{"r":7,"c":44,"v":0},{"r":7,"c":45,"v":0},{"r":7,"c":46,"v":0},{"r":7,"c":47,"v":0},{"r":7,"c":48,"v":0},{"r":7,"c":49,"v":0},
{"r":7,"c":50,"v":0},{"r":7,"c":51,"v":0},{"r":7,"c":52,"v":0.55},{"r":7,"c":53,"v":1},{"r":7,"c":54,"v":0.23},{"r":7,"c":55,"v":0},{"r":7,"c":56,"v":0},{"r":7,"c":57,"v":0.23},{"r":7,"c":58,"v":1},{"r":7,"c":59,"v":0.55},
{"r":7,"c":60,"v":0},{"r":7,"c":61,"v":0.67},{"r":7,"c":62,"v":1},{"r":7,"c":63,"v":0.125},{"r":7,"c":64,"v":0.125},{"r":7,"c":65,"v":1},{"r":7,"c":66,"v":0.67},{"r":7,"c":67,"v":0},{"r":7,"c":68,"v":0},{"r":7,"c":69,"v":0},
{"r":7,"c":70,"v":0},{"r":7,"c":71,"v":0},{"r":7,"c":72,"v":0},{"r":7,"c":73,"v":0},{"r":7,"c":74,"v":0},{"r":7,"c":75,"v":0},{"r":7,"c":76,"v":0},{"r":7,"c":77,"v":0},{"r":7,"c":78,"v":0},{"r":7,"c":79,"v":0},
{"r":7,"c":80,"v":0},{"r":7,"c":81,"v":0},{"r":7,"c":82,"v":0},{"r":7,"c":83,"v":0},{"r":7,"c":84,"v":0},{"r":7,"c":85,"v":0},{"r":7,"c":86,"v":0.78},{"r":7,"c":87,"v":1},{"r":7,"c":88,"v":0},{"r":7,"c":89,"v":0},
{"r":7,"c":90,"v":0},{"r":7,"c":91,"v":0},{"r":7,"c":92,"v":0},{"r":7,"c":93,"v":0},{"r":7,"c":94,"v":0},{"r":7,"c":95,"v":0},{"r":7,"c":96,"v":0},{"r":7,"c":97,"v":0},{"r":7,"c":98,"v":0},{"r":7,"c":99,"v":0},
{"r":7,"c":100,"v":0},{"r":7,"c":101,"v":0},{"r":7,"c":102,"v":0},{"r":7,"c":103,"v":0},{"r":7,"c":104,"v":0},{"r":7,"c":105,"v":0},{"r":7,"c":106,"v":0},{"r":7,"c":107,"v":0},{"r":7,"c":108,"v":0},{"r":7,"c":109,"v":0},
{"r":7,"c":110,"v":0},{"r":7,"c":111,"v":0},{"r":7,"c":112,"v":0},{"r":7,"c":113,"v":0},{"r":7,"c":114,"v":0},{"r":7,"c":115,"v":0},{"r":7,"c":116,"v":0},{"r":7,"c":117,"v":0},{"r":7,"c":118,"v":0.78},{"r":7,"c":119,"v":1},
{"r":7,"c":120,"v":1},{"r":7,"c":121,"v":0},{"r":7,"c":122,"v":0},{"r":7,"c":123,"v":0},{"r":7,"c":124,"v":0},{"r":7,"c":125,"v":0},{"r":7,"c":126,"v":0},{"r":7,"c":127,"v":0},{"r":7,"c":128,"v":0},{"r":7,"c":129,"v":0},
{"r":7,"c":130,"v":0},{"r":7,"c":131,"v":0},{"r":7,"c":132,"v":0},{"r":7,"c":133,"v":0},{"r":7,"c":134,"v":0},{"r":7,"c":135,"v":0},{"r":7,"c":136,"v":0},{"r":7,"c":137,"v":0},{"r":7,"c":138,"v":0},{"r":7,"c":139,"v":0},
{"r":7,"c":140,"v":0},{"r":7,"c":141,"v":0},{"r":7,"c":142,"v":0},{"r":7,"c":143,"v":0},{"r":7,"c":144,"v":0},{"r":7,"c":145,"v":0},{"r":7,"c":146,"v":0},{"r":7,"c":147,"v":0},{"r":7,"c":148,"v":0},{"r":7,"c":149,"v":0},
{"r":7,"c":150,"v":0},{"r":7,"c":151,"v":0},{"r":7,"c":152,"v":0},{"r":7,"c":153,"v":0},{"r":7,"c":154,"v":1},{"r":7,"c":155,"v":0},{"r":7,"c":156,"v":0},{"r":7,"c":157,"v":0},{"r":7,"c":158,"v":1},{"r":7,"c":159,"v":0}
    ]
  },
  "layer": [
    {
      "mark": {"type": "rect", "strokeWidth": 0.6},
      "encoding": {
        "x": {
          "field": "c",
          "type": "ordinal",
          "scale": {"paddingInner": 0, "paddingOuter": 0},
          "axis": {"orient": "bottom", "values": [0, 20, 40, 60, 80, 100, 120, 140], "labelPadding": 33, "zindex": 1}
        },
        "y": {
          "field": "r",
          "type": "ordinal",
          "scale": {"paddingInner": 0, "paddingOuter": 0},
          "axis": {"orient": "left", "labelPadding": 27, "zindex": 1}
        },
        "fill": {
          "field": "v",
          "type": "quantitative",
          "scale": {"domain": [0, 1], "range": ["#008066", "#ffff66"], "interpolate": "rgb"},
          "legend": null
        },
        "stroke": {
          "field": "v",
          "type": "quantitative",
          "scale": {"domain": [0, 1], "range": ["#008066", "#ffff66"], "interpolate": "rgb"},
          "legend": null
        }
      }
    },
    {
      "transform": [{"filter": "datum.r == 0 && datum.c == 0"}],
      "mark": {"type": "rect", "opacity": 0},
      "encoding": {
        "x": {
          "field": "c",
          "type": "ordinal",
          "axis": {"orient": "top", "values": [0, 20, 40, 60, 80, 100, 120, 140], "labels": false, "zindex": 1}
        },
        "y": {
          "field": "r",
          "type": "ordinal",
          "axis": {"orient": "right", "labels": false, "zindex": 1}
        }
      }
    }
  ],
  "resolve": {"axis": {"x": "independent", "y": "independent"}},
  "config": {
    "view": {"stroke": null},
    "font": "DejaVu Sans",
    "axis": {
      "title": null,
      "grid": false,
      "labelAngle": 0,
      "labelFont": "DejaVu Sans",
      "labelFontSize": 48,
      "labelColor": "black",
      "domainColor": "black",
      "domainWidth": 3.5,
      "domainCap": "square",
      "tickColor": "black",
      "tickWidth": 2,
      "tickSize": -14,
      "zindex": 1
    }
  }
}
